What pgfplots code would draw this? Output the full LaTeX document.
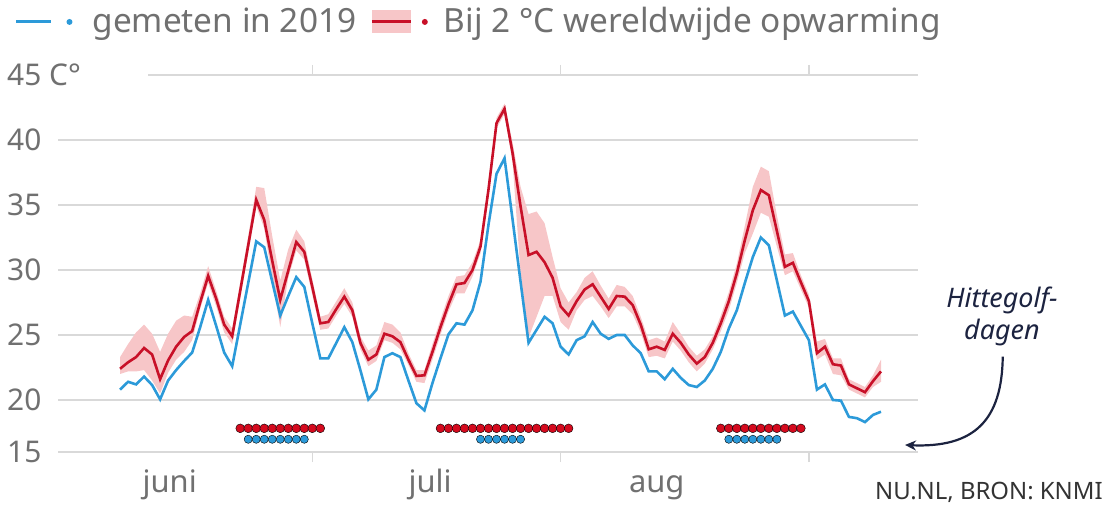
\documentclass[border=0pt]{standalone}
\usepackage{pgfplots}
\pgfplotsset{compat=1.18}
\usepackage{pgfplotstable}
\usepgfplotslibrary{fillbetween}
\usetikzlibrary{arrows.meta}
\usepackage{fontspec}
\setmainfont{Noto Sans}

\definecolor{blueC}{RGB}{44,154,217}
\definecolor{redC}{RGB}{200,16,40}
\definecolor{redD}{RGB}{212,10,30}
\definecolor{bandC}{RGB}{247,198,200}
\definecolor{gridC}{RGB}{217,217,217}
\definecolor{txtC}{RGB}{112,112,112}
\definecolor{navyC}{RGB}{28,35,64}
\definecolor{srcC}{RGB}{51,51,51}

\pgfplotstableread{
day blue red lo hi
6 20.8 22.4 22.0 23.3
7 21.4 22.9 22.2 24.3
8 21.2 23.3 22.2 25.2
9 21.8 24.0 22.3 25.8
10 21.15 23.5 21.5 25.1
11 20.05 21.6 20.5 23.7
12 21.5 23.05 22.1 25.1
13 22.3 24.1 23.1 26.1
14 23.0 24.85 23.7 26.5
15 23.65 25.3 24.6 26.4
16 25.6 27.5 27.0 28.2
17 27.7 29.55 29.0 30.3
18 25.7 27.8 27.2 28.4
19 23.65 25.8 25.2 26.4
20 22.6 24.9 24.3 25.5
21 25.8 28.4 27.8 29.0
22 29.0 31.9 31.3 32.6
23 32.2 35.4 34.9 36.4
24 31.75 33.85 33.2 36.3
25 29.1 30.7 29.3 32.6
26 26.5 27.7 25.6 29.2
27 28.0 29.95 29.4 31.6
28 29.45 32.15 31.5 33.1
29 28.7 31.4 30.8 32.2
30 25.9 28.7 28.1 29.3
31 23.2 25.9 25.4 26.4
32 23.2 26.0 25.5 26.6
33 24.4 27.0 26.5 27.6
34 25.6 27.95 27.4 28.6
35 24.45 26.9 26.4 27.5
36 22.3 24.4 23.9 24.9
37 20.05 23.1 22.6 23.8
38 20.8 23.5 23.0 24.2
39 23.3 25.1 24.6 26.0
40 23.6 24.9 24.4 25.8
41 23.3 24.45 23.9 25.2
42 21.5 23.1 22.7 23.6
43 19.75 21.85 21.4 22.3
44 19.2 21.9 21.3 22.3
45 21.3 23.7 23.1 24.3
46 23.2 25.6 25.0 26.2
47 25.05 27.35 26.8 28.0
48 25.9 28.9 28.2 29.5
49 25.8 29.0 28.2 29.6
50 26.9 30.0 29.5 30.6
51 29.1 31.8 31.3 32.3
52 33.5 36.2 35.8 36.6
53 37.4 41.3 40.9 41.7
54 38.6 42.4 42.0 42.8
55 33.9 39.0 38.3 39.8
56 29.1 34.9 29.8 36.4
57 24.4 31.15 24.8 34.3
58 25.4 31.4 26.4 34.5
59 26.4 30.6 28.0 33.6
60 25.9 29.4 28.0 31.0
61 24.1 27.2 26.0 28.6
62 23.5 26.5 25.4 27.5
63 24.6 27.6 26.9 28.3
64 24.9 28.5 27.7 29.4
65 26.0 28.9 28.0 29.9
66 25.1 27.95 27.2 28.8
67 24.7 27.0 26.3 27.8
68 25.0 28.0 27.2 28.85
69 25.0 27.95 27.2 28.7
70 24.2 27.3 26.6 28.0
71 23.6 25.8 25.2 26.4
72 22.2 23.9 23.3 24.6
73 22.2 24.1 23.4 24.8
74 21.6 23.85 23.2 24.5
75 22.4 25.1 24.5 26.0
76 21.7 24.4 23.8 25.1
77 21.15 23.5 22.9 24.1
78 21.0 22.8 22.2 23.4
79 21.5 23.3 22.8 23.9
80 22.4 24.4 23.9 24.9
81 23.7 25.9 25.3 26.5
82 25.5 27.6 26.9 28.3
83 26.9 29.75 29.0 30.5
84 29.0 32.3 31.3 33.4
85 31.0 34.6 32.8 36.4
86 32.5 36.15 34.4 37.95
87 31.9 35.75 34.1 37.6
88 29.2 33.0 31.8 34.2
89 26.5 30.25 29.6 31.2
90 26.8 30.55 29.9 31.3
91 25.7 29.05 28.5 29.6
92 24.6 27.6 27.1 28.1
93 20.8 23.6 23.1 24.5
94 21.2 24.1 23.5 24.7
95 20.0 22.75 22.0 23.2
96 19.95 22.65 21.9 23.2
97 18.7 21.2 20.8 21.6
98 18.6 20.9 20.5 21.3
99 18.3 20.6 20.2 21.0
100 18.85 21.45 21.0 21.9
101 19.1 22.2 21.4 23.1
}\temps

\pgfplotstableread{
day y
21 17.82
22 17.82
23 17.82
24 17.82
25 17.82
26 17.82
27 17.82
28 17.82
29 17.82
30 17.82
31 17.82
46 17.82
47 17.82
48 17.82
49 17.82
50 17.82
51 17.82
52 17.82
53 17.82
54 17.82
55 17.82
56 17.82
57 17.82
58 17.82
59 17.82
60 17.82
61 17.82
62 17.82
81 17.82
82 17.82
83 17.82
84 17.82
85 17.82
86 17.82
87 17.82
88 17.82
89 17.82
90 17.82
91 17.82
}\reddots

\pgfplotstableread{
day y
22 16.98
23 16.98
24 16.98
25 16.98
26 16.98
27 16.98
28 16.98
29 16.98
51 16.98
52 16.98
53 16.98
54 16.98
55 16.98
56 16.98
82 16.98
83 16.98
84 16.98
85 16.98
86 16.98
87 16.98
88 16.98
}\bluedots

\begin{document}
\begin{tikzpicture}
\begin{axis}[
  name=ax,
  scale only axis,
  width=860bp, height=377bp,
  xmin=-1.748, xmax=105.62,
  ymin=16, ymax=45,
  clip=false,
  axis line style={draw=none},
  major tick length=0pt,
  tick style={draw=gridC, line width=1.4bp},
  ymajorgrids,
  grid style={draw=gridC, line width=1.4bp},
  ytick={16,20,25,30,35,40},
  yticklabels={15,20,25,30,35,40},
  extra y ticks={45},
  extra y tick labels={45 C°},
  extra y tick style={grid=none},
  yticklabel style={anchor=west, inner sep=0pt, xshift=-51bp, text=txtC, font=\fontsize{30}{34}\selectfont},
  xtick={12.2,44.7,73.0},
  xticklabels={juni,juli,aug},
  xticklabel style={anchor=base, inner sep=0pt, yshift=-40bp, text=txtC, font=\fontsize{31}{34}\selectfont},
  extra x ticks={30,61,92},
  extra x tick labels={},
  extra x tick style={major tick length=10bp, tick align=outside},
  legend style={at={(axis description cs:-0.05,1.179)}, anchor=north west,
    draw=none, fill=none, inner sep=0pt, outer sep=0pt,
    font=\fontsize{33.5}{38}\selectfont, text=txtC,
    nodes={inner sep=0pt},
    /tikz/every even column/.append style={column sep=14bp}},
  legend columns=2,
  legend cell align=left,
]
\addlegendimage{legend image code/.code={
  \path[draw=none, fill=none] (0bp,-12bp) rectangle (76bp,11bp);
  \draw[blueC, line width=3bp] (0bp,-1bp) -- (35bp,-1bp);
  \fill[blueC, draw=none] (53bp,-1bp) circle (3bp);}}
\addlegendentry{gemeten in 2019}
\addlegendimage{legend image code/.code={
  \path[draw=none, fill=none] (0bp,-12bp) rectangle (72bp,11bp);
  \fill[bandC, draw=none] (0bp,-12bp) rectangle (39bp,11bp);
  \draw[redC, line width=3bp] (0bp,-1bp) -- (39bp,-1bp);
  \fill[redC, draw=none] (53bp,-1bp) circle (3bp);}}
\addlegendentry{Bij 2 °C wereldwijde opwarming}

\draw[gridC, line width=1.4bp] (axis cs:9.5,45) -- (axis cs:105.62,45);

\addplot[draw=none, name path=hi, forget plot] table[x=day, y=hi] {\temps};
\addplot[draw=none, name path=lo, forget plot] table[x=day, y=lo] {\temps};
\addplot[bandC, forget plot] fill between[of=hi and lo];
\addplot[blueC, line width=2.6bp, forget plot] table[x=day, y=blue] {\temps};
\addplot[redC, line width=2.6bp, forget plot] table[x=day, y=red] {\temps};
\addplot[only marks, mark=*, mark size=4.4bp, mark options={fill=redD, draw=none}, forget plot] table[x=day, y=y] {\reddots};
\addplot[only marks, mark=*, mark size=4.1bp, mark options={fill=blueC, draw=none}, forget plot] table[x=day, y=y] {\bluedots};

\node[anchor=base, text=navyC, font=\fontsize{27}{32}\selectfont\itshape, inner sep=0pt] at (axis cs:116.1,27.08) {Hittegolf-};
\node[anchor=base, text=navyC, font=\fontsize{27}{32}\selectfont\itshape, inner sep=0pt] at (axis cs:116.1,24.62) {dagen};
\draw[navyC, line width=2.2bp, -{Stealth[length=11bp, width=10bp]}] (axis cs:116.2,23.33) .. controls (axis cs:116.1,18.46) and (axis cs:112.7,16.31) .. (axis cs:104.0,16.54);
\node[anchor=base east, text=srcC, font=\fontsize{24}{27}\selectfont, inner sep=0pt] at (axis cs:128.7,12.31) {NU.NL, BRON: KNMI};
\end{axis}
\pgfresetboundingbox
\path[use as bounding box] (ax.south west) ++(-58bp,-55bp) rectangle ([shift={(190bp,75bp)}]ax.north east);
\end{tikzpicture}
\end{document}
